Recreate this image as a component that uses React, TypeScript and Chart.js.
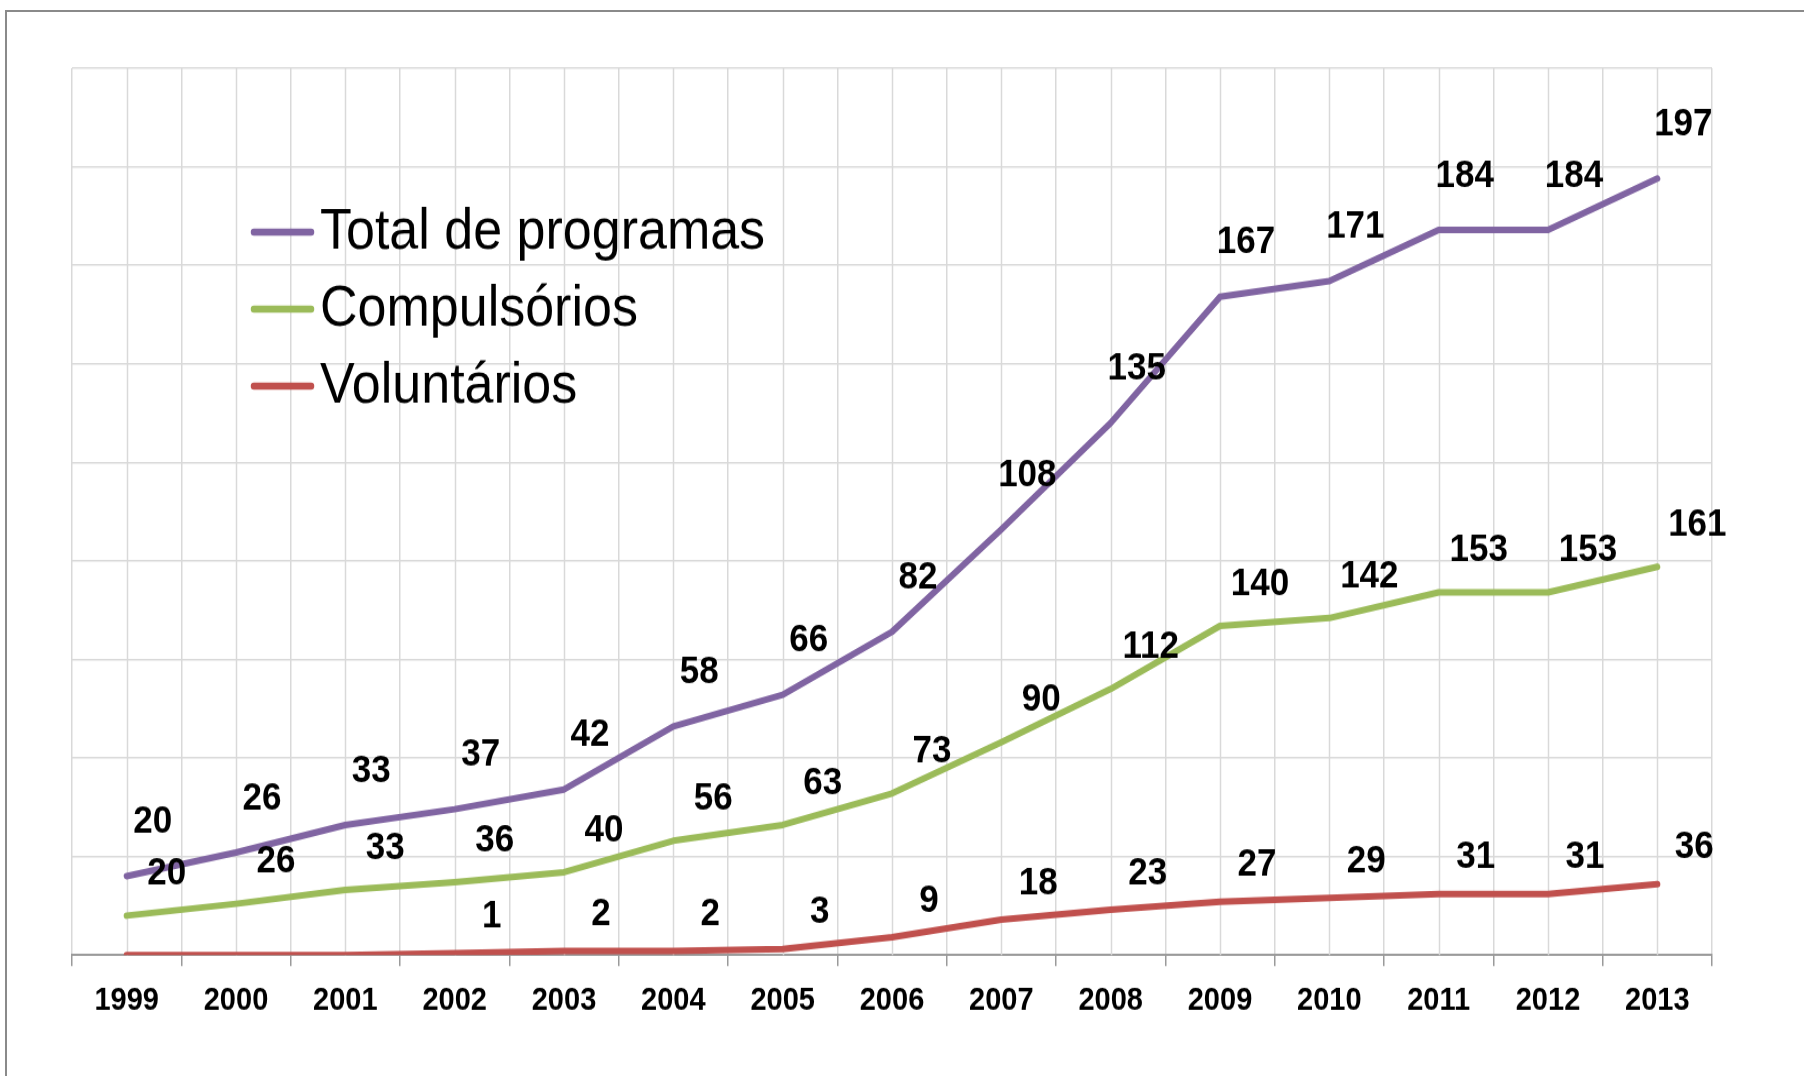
import React, { useEffect, useRef } from 'react';
import { Chart, registerables } from 'chart.js';

Chart.register(...registerables);

// ---------- data ----------
const years = ['1999', '2000', '2001', '2002', '2003', '2004', '2005', '2006', '2007', '2008', '2009', '2010', '2011', '2012', '2013'];
const totalPrograms = [20, 26, 33, 37, 42, 58, 66, 82, 108, 135, 167, 171, 184, 184, 197];
const compulsory = [20, 26, 33, 36, 40, 56, 63, 73, 90, 112, 140, 142, 153, 153, 161];
const voluntary = [0, 0, 0, 1, 2, 2, 3, 9, 18, 23, 27, 29, 31, 31, 36];
const seriesNames = ['Total de programas', 'Compulsórios', 'Voluntários'];
// In the reference picture the green line traces the totals on a hidden secondary axis (0–450),
// while its labels show the compulsory counts; the red line is drawn on that same secondary axis.
const greenLineValues = totalPrograms;

// ---------- styles ----------
const COLORS = ['#8064A2', '#9BBB59', '#C0504D'];
const GRID = '#D9D9D9';
const AXIS = '#9A9A9A';
const STRETCH = 1.1;
const W = 1804;
const H = 978;
const LABEL_OFFSETS = [
  { dx: 26, dy: -49 },
  { dx: 40, dy: -38 },
  { dx: 37, dy: -33 },
];

const centerGridPlugin = {
  id: 'centerGrid',
  beforeDatasetsDraw(chart: any) {
    const x = chart.scales.x;
    const { top, bottom } = chart.chartArea;
    const ctx = chart.ctx;
    ctx.save();
    ctx.strokeStyle = GRID;
    ctx.lineWidth = 1.5;
    for (let i = 0; i < years.length; i++) {
      const px = Math.round(x.getPixelForValue(i)) + 0.5;
      ctx.beginPath();
      ctx.moveTo(px, top);
      ctx.lineTo(px, bottom);
      ctx.stroke();
    }
    ctx.restore();
  },
};

const labelsPlugin = {
  id: 'pointLabels',
  afterDatasetsDraw(chart: any) {
    const ctx = chart.ctx;
    const texts = [totalPrograms, compulsory, voluntary];
    ctx.save();
    ctx.font = 'bold 35px "Liberation Sans", Arial, sans-serif';
    ctx.fillStyle = '#000';
    ctx.textAlign = 'center';
    ctx.textBaseline = 'middle';
    chart.data.datasets.forEach((_ds: any, di: number) => {
      const meta = chart.getDatasetMeta(di);
      meta.data.forEach((pt: any, i: number) => {
        const v = texts[di][i];
        if (!v) return;
        ctx.fillText(String(v), pt.x + LABEL_OFFSETS[di].dx, pt.y + LABEL_OFFSETS[di].dy);
      });
    });
    ctx.restore();
  },
};

const legendPlugin = {
  id: 'insideLegend',
  afterDraw(chart: any) {
    const ctx = chart.ctx;
    const rowsY = [211, 281, 351];
    ctx.save();
    ctx.font = '52px "Liberation Sans", Arial, sans-serif';
    ctx.textBaseline = 'middle';
    ctx.textAlign = 'left';
    chart.data.datasets.forEach((ds: any, i: number) => {
      const y = rowsY[i];
      ctx.strokeStyle = ds.borderColor;
      ctx.lineWidth = 6.5;
      ctx.lineCap = 'round';
      ctx.beginPath();
      ctx.moveTo(254, y);
      ctx.lineTo(311, y);
      ctx.stroke();
      ctx.fillStyle = '#000';
      ctx.fillText(ds.label, 320, y + 1);
    });
    ctx.restore();
  },
};

export default function App() {
  const canvasRef = useRef<HTMLCanvasElement | null>(null);

  useEffect(() => {
    if (!canvasRef.current) return;
    const lineStyle = (i: number) => ({
      borderColor: COLORS[i],
      backgroundColor: COLORS[i],
      borderWidth: 6,
      pointRadius: 0,
      tension: 0,
      borderCapStyle: 'round' as const,
      borderJoinStyle: 'round' as const,
      fill: false,
    });
    const chart = new Chart(canvasRef.current, {
      type: 'line',
      data: {
        labels: years,
        datasets: [
          { label: seriesNames[0], data: totalPrograms, yAxisID: 'y', ...lineStyle(0) },
          { label: seriesNames[1], data: greenLineValues, yAxisID: 'y2', ...lineStyle(1) },
          { label: seriesNames[2], data: voluntary, yAxisID: 'y2', ...lineStyle(2) },
        ],
      },
      options: {
        animation: false,
        responsive: true,
        maintainAspectRatio: false,
        layout: { padding: { left: 72, top: 62, right: 92, bottom: 37 } },
        plugins: {
          legend: { display: false },
          tooltip: { enabled: false },
        },
        scales: {
          x: {
            offset: true,
            grid: {
              offset: true,
              color: GRID,
              lineWidth: 1.5,
              tickColor: AXIS,
              tickLength: 10,
              drawTicks: true,
            },
            border: { color: AXIS, width: 2 },
            ticks: {
              color: '#000',
              padding: 14,
              font: { family: '"Liberation Sans", Arial, sans-serif', size: 29, weight: 'bold' },
            },
          },
          y: {
            min: 0,
            max: 225,
            ticks: { display: false, stepSize: 25 },
            grid: { color: GRID, lineWidth: 1.5, drawTicks: false },
            border: { display: false },
          },
          y2: {
            display: false,
            min: 0,
            max: 450,
          },
        },
      },
      plugins: [centerGridPlugin, labelsPlugin, legendPlugin],
    });
    return () => chart.destroy();
  }, []);

  return (
    <>
      <div
        style={{
          position: 'absolute',
          left: 5,
          top: 10,
          width: W - 5,
          height: 1066,
          boxSizing: 'border-box',
          borderLeft: '2px solid #8A8A8A',
          borderTop: '2px solid #8A8A8A',
        }}
      />
      <div
        style={{
          position: 'absolute',
          left: 0,
          top: 0,
          width: W,
          height: H,
          transform: `scaleY(${STRETCH})`,
          transformOrigin: 'top left',
        }}
      >
        <canvas ref={canvasRef} />
      </div>
    </>
  );
}
